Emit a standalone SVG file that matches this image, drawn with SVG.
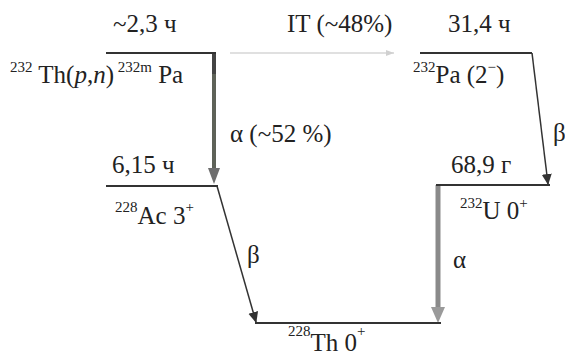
<svg xmlns="http://www.w3.org/2000/svg" width="565" height="356" viewBox="0 0 565 356">
<style>
.t{font-family:'Liberation Serif','Times New Roman','DejaVu Serif',serif;font-size:25px;fill:#222}
.sup{font-size:15px}
.lvl{stroke:#333;stroke-width:2;fill:none}
.thin{stroke:#333;stroke-width:1.5;fill:none}
</style>
<defs>
<marker id="ah" markerWidth="12" markerHeight="12" refX="10" refY="5" orient="auto" markerUnits="userSpaceOnUse">
<path d="M0,0 L11,5 L0,10 Z" fill="#333"/>
</marker>
<marker id="ahl" markerWidth="10" markerHeight="10" refX="8" refY="3" orient="auto" markerUnits="userSpaceOnUse">
<path d="M0,0 L8,3 L0,6 Z" fill="#d0d0d0"/>
</marker>
</defs>
<rect width="565" height="356" fill="#ffffff"/>
<g id="connectors">
<line x1="230" y1="53" x2="394" y2="53" stroke="#d6d6d6" stroke-width="1.5" marker-end="url(#ahl)"/>
<line x1="214" y1="53" x2="214" y2="74" stroke="#444" stroke-width="4"/>
<line x1="214" y1="74" x2="214" y2="170" stroke="#5e6258" stroke-width="4"/>
<path d="M208,168 L220,168 L214,184 Z" fill="#6e6e6e"/>
<line x1="532" y1="53" x2="548" y2="184" class="thin" marker-end="url(#ah)"/>
<line x1="217" y1="186" x2="256" y2="322" class="thin" marker-end="url(#ah)"/>
<line x1="438" y1="185" x2="438" y2="309" stroke="#8a8a8a" stroke-width="5"/>
<path d="M431,307 L445,307 L438,323 Z" fill="#9a9a9a"/>
</g>
<g font-family="'Liberation Serif','Times New Roman','DejaVu Serif',serif">
<g id="n232mPa">
<line x1="106" y1="53" x2="216" y2="53" class="lvl"/>
<text class="t" x="113" y="32">~2,3 ч</text>
<text class="t" x="10" y="83"><tspan class="sup" dy="-11">232</tspan><tspan dy="11"> Th(</tspan><tspan font-style="italic">p</tspan>,<tspan font-style="italic">n</tspan>)<tspan class="sup" dy="-11"> 232m</tspan><tspan dy="11"> Pa</tspan></text>
</g>
<g id="labelIT">
<text class="t" x="287" y="32">IT (~48%)</text>
</g>
<g id="n232Pa">
<line x1="420" y1="53" x2="532" y2="53" class="lvl"/>
<text class="t" x="448" y="32">31,4 ч</text>
<text class="t" x="413" y="83"><tspan class="sup" dy="-11">232</tspan><tspan dy="11">Pa (2</tspan><tspan class="sup" dy="-11">−</tspan><tspan dy="11">)</tspan></text>
</g>
<g id="labels">
<text class="t" x="230" y="142">α (~52 %)</text>
<text class="t" x="553" y="141">β</text>
<text class="t" x="247" y="263">β</text>
<text class="t" x="453" y="268">α</text>
</g>
<g id="n228Ac">
<line x1="106" y1="186" x2="218" y2="186" class="lvl"/>
<text class="t" x="112" y="173">6,15 ч</text>
<text class="t" x="115" y="224"><tspan class="sup" dy="-12">228</tspan><tspan dy="12">Ac 3</tspan><tspan class="sup" dy="-12">+</tspan></text>
</g>
<g id="n232U">
<line x1="436" y1="185" x2="550" y2="185" class="lvl"/>
<text class="t" x="451" y="173">68,9 г</text>
<text class="t" x="460" y="219"><tspan class="sup" dy="-11">232</tspan><tspan dy="11">U 0</tspan><tspan class="sup" dy="-11">+</tspan></text>
</g>
<g id="n228Th">
<line x1="255" y1="323" x2="441" y2="323" class="lvl"/>
<text class="t" x="288" y="351"><tspan class="sup" dy="-15">228</tspan><tspan dy="15">Th 0</tspan><tspan class="sup" dy="-15">+</tspan></text>
</g>
</g>
</svg>
